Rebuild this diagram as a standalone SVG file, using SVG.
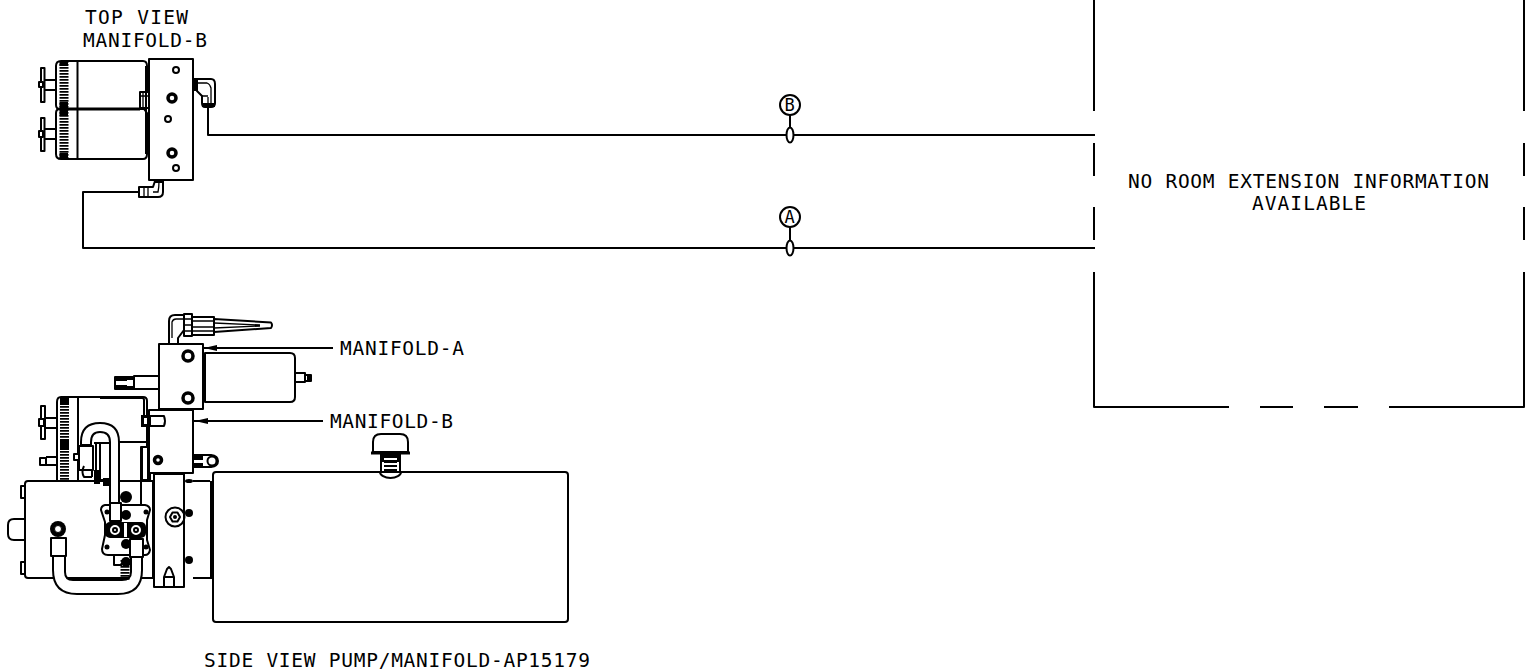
<svg xmlns="http://www.w3.org/2000/svg" width="1527" height="671" viewBox="0 0 1527 671">
<style>
text{font-family:"DejaVu Sans Mono","Liberation Mono",monospace;font-size:19.5px;fill:#000}
.l{fill:none;stroke:#000;stroke-width:2;stroke-linejoin:round}
.t{fill:none;stroke:#000;stroke-width:1.3}
.w{fill:#fff;stroke:#000;stroke-width:2;stroke-linejoin:round}
.b{fill:#000;stroke:none}
.h{fill:#fff;stroke:#000;stroke-width:3.5}
.k{fill:none;stroke:#000;stroke-width:9;stroke-dasharray:1.8 1.2}
</style>
<rect width="1527" height="671" fill="#fff"/>
<g id="connectors">
<path class="l" d="M208 108V135H1095M139 192H83V248H1095M790 115V128M790 227V240"/>
<path class="l" d="M203 348H333M194 421H323"/>
<path class="b" d="M204 348L217 345V351ZM195 421L208 418V424Z"/>
</g>
<g id="room-box">
<path class="l" d="M1094 0V111M1094 143V176M1094 207V240M1094 272V407H1229M1260 407H1293M1324 407H1358M1389 407H1524V272M1524 240V207M1524 176V143M1524 111V0"/>
<text x="1128" y="188" textLength="361">NO ROOM EXTENSION INFORMATION</text>
<text x="1252" y="210" textLength="114">AVAILABLE</text>
</g>
<g id="callout-b">
<circle class="l" cx="790" cy="105" r="10"/>
<ellipse class="w" cx="790" cy="135" rx="3.500" ry="7.500"/>
<text x="784.500" y="111" style="font-size:17px" textLength="11">B</text>
</g>
<g id="callout-a">
<circle class="l" cx="790" cy="217" r="10"/>
<ellipse class="w" cx="790" cy="248" rx="3.500" ry="7.500"/>
<text x="784.500" y="223" style="font-size:17px" textLength="11">A</text>
</g>
<g id="top-view">
<text x="85" y="24" textLength="103">TOP VIEW</text>
<text x="83" y="47" textLength="124">MANIFOLD-B</text>
<path class="l" d="M61 61H143Q147 61 147 66V105L144 109H60Q56 109 56 105V66Q56 61 61 61Z"/>
<path class="l" d="M60 109H144L147 113V154Q147 159 143 159H61Q56 159 56 154V113Q56 109 60 109Z"/>
<path class="l" d="M77.500 61V159"/>
<path class="k" d="M64 61V159"/>
<path class="b" d="M59.500 61H68V66H59.500ZM59.500 102H68V116H59.500ZM59.500 153H68V159H59.500ZM68 107.500H140V110.500H68Z"/>
<path class="l" d="M44 80H56M44 90H56M44 129H56M44 139H56"/>
<rect class="w" x="41" y="68" width="3.500" height="34"/><rect class="w" x="39" y="82" width="4" height="5"/>
<rect class="w" x="41" y="118" width="3.500" height="33"/><rect class="w" x="39" y="131" width="4" height="6"/>
<rect class="w" x="140" y="92" width="9" height="16"/><path class="t" d="M140 96H149M143 92V108"/>
<path class="l" d="M146 66V154M149 66V154"/>
<rect class="w" x="149" y="59" width="44" height="121"/>
<circle class="l" cx="176" cy="70" r="3"/><circle class="l" cx="168" cy="119" r="3"/><circle class="l" cx="176" cy="168" r="3"/>
<circle class="h" cx="172" cy="98" r="4"/><circle class="h" cx="172" cy="153" r="4"/>
<path class="w" d="M197 79H211Q215 79 215 84V103Q215 107 211 107H205Q202 107 202 103V96L197 91Z"/>
<path class="b" d="M193 78H197V91H193ZM202 103H215V107H202Z"/>
<path class="t" d="M197 83H207Q210 84 211 88V103M202 96H208M208 97V106"/>
<path class="w" d="M139 187H153L155 181H163V192Q163 197 158 197H139Z"/>
<path class="t" d="M144 187V197M148 187V197M153 192H158Q159 188 159 181"/>
<path class="b" d="M155 180H163V183H155Z"/>
</g>
<g id="side-view">
<text x="204" y="667" textLength="386">SIDE VIEW PUMP/MANIFOLD-AP15179</text>
<text x="340" y="355" textLength="124">MANIFOLD-A</text>
<text x="330" y="428" textLength="123">MANIFOLD-B</text>
<g id="tank">
<path class="l" d="M193 481H210M193 578H210"/>
<path class="b" d="M210 481H213V579H210Z"/>
<rect class="w" x="213" y="472" width="355" height="150" rx="3"/>
<path class="w" d="M380 472A10.500 6 0 0 0 401 472Z"/>
<path class="w" d="M381 453H400V472H381Z"/>
<path class="b" d="M383 453H398V458H383ZM380 453H384V462H380ZM397 453H401V462H397ZM384 460H397V463H384ZM384 465H397V467H384ZM384 469H397V471H384Z"/>
<path class="w" d="M373 452V442Q373 434 381 434H400Q408 434 408 442V452Z"/>
<path class="b" d="M371 451.500H410V454.500H371Z"/>
</g>
<g id="manifold-a">
<path class="w" d="M205 353H290Q295 353 295 358V397Q295 402 290 402H205Z"/>
<path class="b" d="M203 368H206V388H203Z"/>
<path class="w" d="M295 373H305V382H295Z"/><rect class="w" x="305" y="375" width="6" height="6"/><rect class="b" x="307" y="376" width="4" height="4"/>
<rect class="w" x="134" y="376" width="25" height="13"/>
<rect class="w" x="115" y="377" width="19" height="12"/>
<path class="b" d="M116 378H127V381H116ZM116 385H127V388H116ZM127 377H134V380H127ZM127 386H134V389H127Z"/>
<rect class="w" x="159" y="344" width="44" height="65"/>
<circle class="h" cx="188" cy="356" r="5"/><circle class="h" cx="188" cy="398" r="5"/>
<path class="w" d="M169 338V321Q169 315 175 315H184V330L178 338V344H169Z"/>
<path class="t" d="M172 338V322Q173 319 176 319H184"/>
<path class="w" d="M184 314H192V336H184Z"/><path class="t" d="M184 319H192M184 325H192M184 331H192"/>
<path class="w" d="M192 317H214V335H192Z"/><path class="t" d="M192 321H214M192 327H214M192 331H214"/>
<path class="w" d="M214 319L271 322.500Q273 325 271 328L214 332Z"/>
<path class="t" d="M214 323L260 325M214 328L260 326"/>
</g>
<g id="motor">
<path class="l" d="M61 397H143Q147 397 147 401V412M57 480V402Q57 397 61 397"/>
<path class="l" d="M78 397V480M119 442H147"/>
<path class="k" d="M64.500 397V480"/>
<path class="b" d="M60 397H69V405H60ZM60 440H69V450H60Z"/>
<path class="l" d="M45 418H57M45 428H57M46 457H57M46 465H57M147 412V447"/>
<rect class="w" x="41" y="406" width="4" height="33"/><rect class="w" x="39" y="419" width="5" height="7"/>
<rect class="w" x="40" y="458" width="6" height="7"/>
</g>
<g id="manifold-b">
<path class="w" d="M141 447H150V480H141Z"/><path class="b" d="M140 447H143V480H140ZM147 447H149V480H147Z"/>
<rect class="w" x="149" y="410" width="44" height="63"/>
<circle class="h" cx="158" cy="460" r="3.500"/>
<path class="w" d="M193 455H211Q218 456 218 461Q218 466 211 467H193Z"/><circle class="l" cx="212" cy="461" r="4.500"/>
<path class="b" d="M193 456H203V460H193ZM193 463H203V466H193Z"/>
<path class="w" d="M150 416H164Q166 421 164 426H150Z"/>
<rect class="b" x="141" y="415" width="9" height="12"/><rect x="144" y="418" width="3" height="6" fill="#fff"/>
<path class="l" d="M100 398H142Q144 398 144 400V415"/>
</g>
<g id="bracket">
<rect class="w" x="154" y="474" width="30" height="113"/>
<circle class="l" cx="175" cy="517" r="9.500"/>
<path class="w" d="M170 517L172.500 512.500H177.500L180 517L177.500 521.500H172.500Z"/>
<circle class="b" cx="175" cy="517" r="2"/>
<circle class="b" cx="189" cy="513" r="4"/><circle class="b" cx="189" cy="560" r="4"/><ellipse class="b" cx="189" cy="481" rx="4" ry="2"/>
<path class="l" d="M164 587V577L167 569L169 567L171 569L174 577V587M164 577H174"/>
</g>
<g id="pump-body">
<path class="w" d="M28 481H153V578H28Q25 578 25 575V484Q25 481 28 481Z"/>
<path class="w" d="M25 519H14Q8 519 8 525V534Q8 540 14 540H25Z"/>
<rect class="w" x="21" y="486" width="4" height="12"/><rect class="w" x="21" y="562" width="4" height="12"/>
<path class="b" d="M140 480H142V505H140Z"/>
<path class="w" d="M53 556V570Q53 594 77 594H118Q142 594 142 570V548H131V572Q131 580 122 580H73Q65 580 65 572V556Z"/>
<circle class="b" cx="58" cy="529" r="8"/><circle cx="58" cy="529" r="3.500" fill="#fff" stroke="#000"/>
<rect class="w" x="51" y="538" width="15" height="18"/>
<path class="w" d="M105 505H145Q150 506 150 510L147 520V540L150 550Q149 555 145 555H108Q102 555 102 549L105 535V522L101 510Q101 506 105 505Z"/>
<circle class="b" cx="126" cy="497" r="6"/><circle class="b" cx="126" cy="515" r="5"/><circle class="b" cx="126" cy="544" r="5"/><circle class="b" cx="126" cy="562" r="5"/>
<circle class="b" cx="107" cy="512" r="2.500"/><circle class="b" cx="146" cy="512" r="2.500"/><circle class="b" cx="107" cy="547" r="2.500"/><circle class="b" cx="146" cy="547" r="2.500"/>
<rect class="b" x="105" y="522" width="41" height="16" rx="5"/>
<circle class="w" cx="115" cy="530" r="6"/><circle class="l" cx="115" cy="530" r="2"/>
<circle class="w" cx="136" cy="530" r="6"/><circle class="l" cx="136" cy="530" r="2"/>
<rect x="124" y="523" width="3" height="14" fill="#fff"/>
<path class="k" d="M125 560V580"/>
<path class="l" d="M114 555V565H122"/>
<rect class="w" x="130" y="539" width="13" height="18"/>
<path class="w" d="M81 445V442Q81 423 100 423Q119 423 119 442V503H110V442Q110 432 100 432Q91 432 91 442V445Z"/>
<path class="l" d="M94 443H110V480M92 445V470"/>
<rect class="w" x="110" y="503" width="11" height="18"/>
<rect class="w" x="79" y="446" width="14" height="24"/><rect class="w" x="74" y="454" width="5" height="6"/>
<path class="l" d="M96 444V480H110M100 444V480"/>
<path class="l" d="M84 466Q81 472 84 477H92M92 470V477"/>
<path class="b" d="M94 470H100V484H94ZM103 478H110V486H103Z"/>
</g>
</g>
</svg>
